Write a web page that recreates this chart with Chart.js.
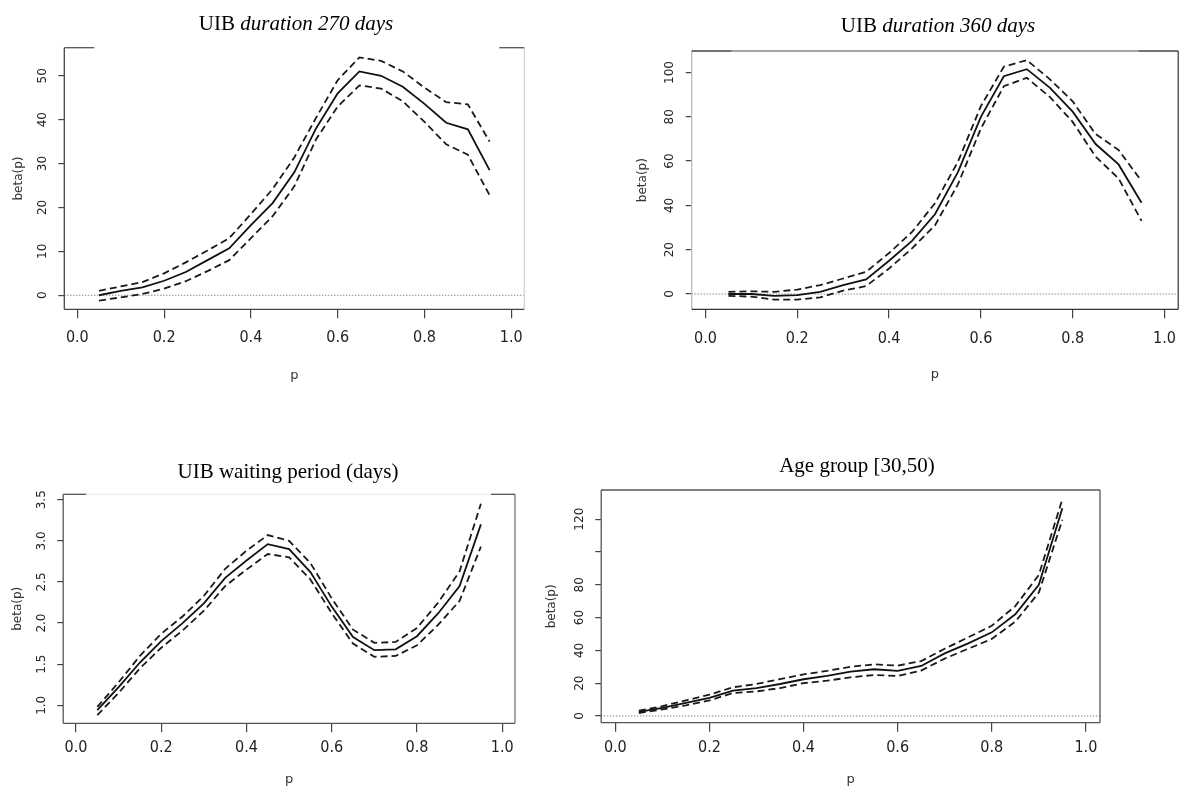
<!DOCTYPE html>
<html>
<head>
<meta charset="utf-8">
<title>beta(p) panels</title>
<script src="https://cdn.jsdelivr.net/npm/chart.js@4.4.0/dist/chart.umd.min.js"></script>
<style>
  body { margin: 0; background: #fff; width: 1187px; height: 790px; position: relative; overflow: hidden; }
  canvas { position: absolute; }
  .ttl { position: absolute; font-family: "Liberation Serif", "Times New Roman", serif; font-size: 21px;
         color: #000; white-space: nowrap; transform: translate(-50%, -50%); }
</style>
</head>
<body>
<canvas id="c270" width="560" height="395" style="left:0;top:0"></canvas>
<canvas id="c360" width="597" height="395" style="left:590px;top:0"></canvas>
<canvas id="cwait" width="560" height="390" style="left:0;top:400px"></canvas>
<canvas id="cage" width="657" height="390" style="left:530px;top:400px"></canvas>

<div class="ttl" style="left:296px;top:23px">UIB <i>duration 270 days</i></div>
<div class="ttl" style="left:938px;top:25px">UIB <i>duration 360 days</i></div>
<div class="ttl" style="left:288px;top:471px">UIB waiting period (days)</div>
<div class="ttl" style="left:857px;top:465px">Age group [30,50)</div>

<script>
'use strict';

// quantile levels
const P = [0.05, 0.10, 0.15, 0.20, 0.25, 0.30, 0.35, 0.40, 0.45, 0.50,
           0.55, 0.60, 0.65, 0.70, 0.75, 0.80, 0.85, 0.90, 0.95];

const X_TICKS = [0, 0.2, 0.4, 0.6, 0.8, 1.0];
const X_LABELS = ['0.0', '0.2', '0.4', '0.6', '0.8', '1.0'];
const ZERO = 0;

// UIB duration 270 days
const D270_FIT = [0, 1.0, 1.8, 3.3, 5.3, 8.0, 10.7, 16, 21, 28, 38, 46, 51, 50, 47.5, 43.6, 39.3, 37.8, 28.5];
const D270_UP  = [1.0, 2.0, 3.0, 5.0, 7.5, 10.2, 13, 18.5, 24.2, 31.4, 40.4, 49, 54.2, 53.4, 51, 47.3, 44, 43.5, 35];
const D270_LO  = [-1.2, -0.5, 0.3, 1.5, 3.2, 5.5, 8.0, 13, 18, 24.8, 35.5, 43, 47.8, 47.1, 44.2, 39.5, 34.4, 32, 22.8];
const D270_YTICKS = [0, 10, 20, 30, 40, 50];
const D270_YLABELS = ['0', '10', '20', '30', '40', '50'];

// UIB duration 360 days
const D360_FIT = [0, 0, -0.8, -0.5, 1, 4, 6.6, 15, 24, 36, 55, 80, 98.3, 101.5, 93.2, 82.3, 67.7, 58.5, 41.2];
const D360_UP  = [1, 1.2, 1, 2, 4, 7, 10, 18.5, 28, 41, 59.7, 84.8, 102.6, 105.6, 97, 87, 72.2, 65, 51];
const D360_LO  = [-0.8, -1.2, -2.5, -2.5, -1.5, 1.5, 3.6, 11.5, 20.6, 31, 49.5, 74.7, 93.8, 97.6, 89, 77.7, 62, 52.2, 33];
const D360_YTICKS = [0, 20, 40, 60, 80, 100];
const D360_YLABELS = ['0', '20', '40', '60', '80', '100'];

// UIB waiting period
const WAIT_FIT = [0.94, 1.22, 1.52, 1.78, 2.0, 2.24, 2.55, 2.76, 2.96, 2.9, 2.62, 2.2, 1.83, 1.67, 1.68, 1.84, 2.12, 2.45, 3.2];
const WAIT_UP  = [0.98, 1.28, 1.6, 1.87, 2.08, 2.33, 2.66, 2.88, 3.07, 3.0, 2.73, 2.3, 1.92, 1.76, 1.77, 1.94, 2.25, 2.63, 3.45];
const WAIT_LO  = [0.88, 1.15, 1.45, 1.7, 1.91, 2.15, 2.45, 2.65, 2.84, 2.8, 2.53, 2.12, 1.75, 1.59, 1.6, 1.73, 1.98, 2.27, 2.93];
const WAIT_YTICKS = [1.0, 1.5, 2.0, 2.5, 3.0, 3.5];
const WAIT_YLABELS = ['1.0', '1.5', '2.0', '2.5', '3.0', '3.5'];

// Age group [30,50)
const AGE_FIT = [2.5, 5, 8, 11, 15.5, 17, 19.5, 22.4, 24.5, 27, 28.5, 27.5, 30.5, 38.2, 44.3, 51, 62, 80, 126.7];
const AGE_UP  = [3.2, 6, 9.5, 13, 17.5, 19.5, 22.5, 25.4, 27.5, 30, 31.5, 30.7, 33.5, 41, 48, 55, 67, 86, 132.2];
const AGE_LO  = [1.8, 4, 6.5, 9.5, 14, 15, 17, 20, 21.5, 23.6, 25, 24.4, 27.7, 35, 41, 47, 57.5, 75.2, 119.6];
const AGE_YTICKS = [0, 20, 40, 60, 80, 100, 120];
const AGE_YLABELS = ['0', '20', '40', '60', '80', '', '120'];

// plugins
const framePlugin = {
    id: 'frame',
    afterDraw(chart, args, o) {
        const {ctx, chartArea: a} = chart;
        const seg = (x0, y0, x1, y1, c) => {
            if (!c) return;
            ctx.strokeStyle = c;
            ctx.beginPath(); ctx.moveTo(x0, y0); ctx.lineTo(x1, y1); ctx.stroke();
        };
        ctx.save();
        ctx.lineWidth = 1.3;
        seg(a.left, a.top, a.left, a.bottom, o.left);
        seg(a.right, a.top, a.right, a.bottom, o.right);
        seg(a.left, a.bottom, a.right, a.bottom, o.bottom);
        seg(a.left + o.ends[0], a.top, a.right - o.ends[1], a.top, o.topMid);
        seg(a.left, a.top, a.left + o.ends[0], a.top, o.top);
        seg(a.right - o.ends[1], a.top, a.right, a.top, o.top);
        ctx.restore();
    }
};

const zeroPlugin = {
    id: 'zeroLine',
    beforeDatasetsDraw(chart, args, o) {
        if (!o.show) return;
        const {ctx, chartArea: a} = chart;
        const y = chart.scales.y.getPixelForValue(ZERO);
        ctx.save();
        ctx.strokeStyle = '#555';
        ctx.lineWidth = 1;
        ctx.setLineDash([1, 2]);
        ctx.beginPath(); ctx.moveTo(a.left, y); ctx.lineTo(a.right, y); ctx.stroke();
        ctx.restore();
    }
};

// R style y labels, turned parallel to the axis
const yLabelPlugin = {
    id: 'yLabels',
    afterDraw(chart) {
        const {ctx, chartArea: a} = chart;
        const s = chart.scales.y;
        ctx.save();
        ctx.font = '12px "DejaVu Sans", sans-serif';
        ctx.fillStyle = '#222';
        ctx.textAlign = 'center';
        ctx.textBaseline = 'middle';
        for (let t of s.ticks) {
            if (!t.label) continue;
            ctx.save();
            ctx.translate(a.left - 21.5, s.getPixelForValue(t.value));
            ctx.rotate(-Math.PI / 2);
            ctx.fillText(t.label, 0, 0);
            ctx.restore();
        }
        ctx.restore();
    }
};

let toPoints = (arr) => P.map((p, i) => ({x: p, y: arr[i]}));

let panel = (id, g, fit, up, lo, yMin, yMax, yTicks, yLabels, frame, zero) => {
    const yTitleSize = 12, xTitleSize = 13;
    const padLeft = g.yTitleX - yTitleSize * 1.2 / 2;
    const xBottom = g.xTitleY + xTitleSize * 1.2 / 2;
    const dashed = {borderColor: '#1a1a1a', borderWidth: 1.8, borderDash: [7, 4], pointRadius: 0, tension: 0, fill: false};

    new Chart(document.getElementById(id), {
        type: 'line',
        data: {
            datasets: [
                Object.assign({label: 'lower', data: toPoints(lo)}, dashed),
                Object.assign({label: 'upper', data: toPoints(up)}, dashed),
                {label: 'beta(p)', data: toPoints(fit), borderColor: '#111', borderWidth: 1.8, pointRadius: 0, tension: 0, fill: false}
            ]
        },
        options: {
            responsive: false,
            animation: false,
            events: [],
            layout: {padding: {left: padLeft, top: g.T, right: g.w - g.R, bottom: g.h - xBottom}},
            plugins: {
                legend: {display: false},
                tooltip: {enabled: false},
                frame: frame,
                zeroLine: {show: zero}
            },
            scales: {
                x: {
                    type: 'linear',
                    min: -0.03,
                    max: 1.03,
                    afterBuildTicks: (s) => { s.ticks = X_TICKS.map(v => ({value: v})); },
                    afterFit: (s) => { s.height = xBottom - g.B; },
                    ticks: {
                        autoSkip: false, maxRotation: 0, padding: g.xPad, color: '#222',
                        font: {family: '"Liberation Sans Narrow", "DejaVu Sans Condensed", sans-serif', size: 16},
                        callback: (v, i) => X_LABELS[i]
                    },
                    grid: {drawOnChartArea: false, drawTicks: true, tickLength: 9, color: '#444', lineWidth: 1.2},
                    border: {display: false},
                    title: {display: true, text: 'p', padding: 0, color: '#333', font: {family: '"DejaVu Sans", sans-serif', size: xTitleSize}}
                },
                y: {
                    type: 'linear',
                    min: yMin,
                    max: yMax,
                    afterBuildTicks: (s) => { s.ticks = yTicks.map(v => ({value: v})); },
                    afterFit: (s) => { s.width = g.L - padLeft; },
                    ticks: {color: 'rgba(0,0,0,0)', callback: (v, i) => yLabels[i]},
                    grid: {drawOnChartArea: false, drawTicks: true, tickLength: 6, color: '#444', lineWidth: 1.2},
                    border: {display: false},
                    title: {display: true, text: 'beta(p)', padding: 0, color: '#333', font: {family: '"DejaVu Sans", sans-serif', size: yTitleSize}}
                }
            }
        },
        plugins: [framePlugin, zeroPlugin, yLabelPlugin]
    });
};

window.onload = () => {
    panel('c270', {w: 560, h: 395, L: 64.3, R: 524.3, T: 47.7, B: 309.3, yTitleX: 18.6, xTitleY: 376, xPad: 9.6},
        D270_FIT, D270_UP, D270_LO, -3.2, 56.4, D270_YTICKS, D270_YLABELS,
        {left: '#444', right: '#d4d4d4', bottom: '#444', top: '#555', topMid: null, ends: [30, 25]}, true);

    panel('c360', {w: 597, h: 395, L: 101.7, R: 594, T: 51, B: 309.3, yTitleX: 52.5, xTitleY: 375, xPad: 11},
        D360_FIT, D360_UP, D360_LO, -6.9, 109.7, D360_YTICKS, D360_YLABELS,
        {left: '#bbb', right: '#444', bottom: '#333', top: '#444', topMid: '#888', ends: [40, 40]}, true);

    panel('cwait', {w: 560, h: 390, L: 63.2, R: 515, T: 94.3, B: 323.3, yTitleX: 18, xTitleY: 380, xPad: 6.1},
        WAIT_FIT, WAIT_UP, WAIT_LO, 0.781, 3.566, WAIT_YTICKS, WAIT_YLABELS,
        {left: '#555', right: '#777', bottom: '#555', top: '#555', topMid: '#eee', ends: [23, 24]}, false);

    panel('cage', {w: 657, h: 390, L: 71.2, R: 570, T: 90, B: 322.7, yTitleX: 22, xTitleY: 380, xPad: 6.7},
        AGE_FIT, AGE_UP, AGE_LO, -4.1, 137.8, AGE_YTICKS, AGE_YLABELS,
        {left: '#555', right: '#555', bottom: '#555', top: '#555', topMid: '#555', ends: [40, 40]}, true);
};
</script>
</body>
</html>
